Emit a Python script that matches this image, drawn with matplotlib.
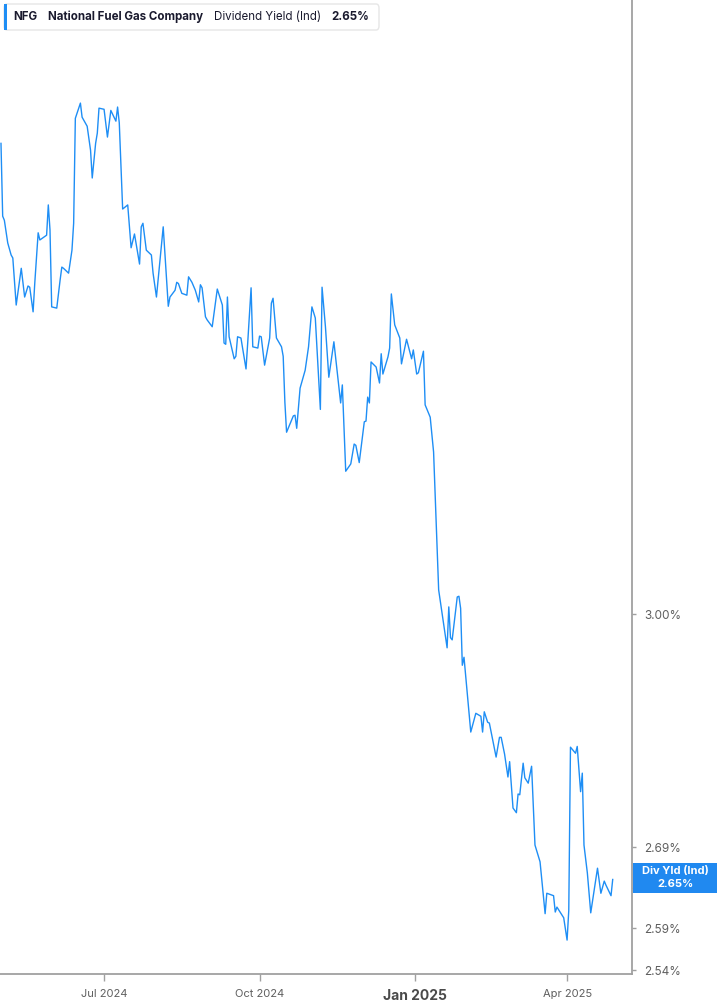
import matplotlib
matplotlib.use("Agg")
import matplotlib.pyplot as plt
from matplotlib.patches import FancyBboxPatch, Rectangle
import pandas as pd
from matplotlib.ticker import FixedLocator, NullLocator

plt.rcParams['font.family'] = ['Inter', 'DejaVu Sans']

dates = [
 "2024-05-01","2024-05-02","2024-05-03","2024-05-05","2024-05-07","2024-05-08","2024-05-10","2024-05-13",
 "2024-05-15","2024-05-17","2024-05-18","2024-05-20","2024-05-21","2024-05-23","2024-05-24","2024-05-28",
 "2024-05-29","2024-05-30","2024-05-31","2024-06-03","2024-06-05","2024-06-06","2024-06-07","2024-06-10",
 "2024-06-12","2024-06-13","2024-06-14","2024-06-17","2024-06-18","2024-06-21","2024-06-23","2024-06-24",
 "2024-06-26","2024-06-27","2024-06-28","2024-07-01","2024-07-03","2024-07-05","2024-07-08","2024-07-09",
 "2024-07-10","2024-07-12","2024-07-15","2024-07-17","2024-07-19","2024-07-22","2024-07-23","2024-07-24",
 "2024-07-26","2024-07-29","2024-07-30","2024-08-01","2024-08-05","2024-08-08","2024-08-09","2024-08-12",
 "2024-08-13","2024-08-14","2024-08-16","2024-08-19","2024-08-20","2024-08-22","2024-08-24","2024-08-26",
 "2024-08-27","2024-08-28","2024-08-30","2024-08-31","2024-09-03","2024-09-06","2024-09-09","2024-09-10",
 "2024-09-11","2024-09-12","2024-09-13","2024-09-16","2024-09-17","2024-09-18","2024-09-20","2024-09-23",
 "2024-09-24","2024-09-26","2024-09-27","2024-09-30","2024-10-01","2024-10-02","2024-10-04","2024-10-07",
 "2024-10-08","2024-10-09","2024-10-11","2024-10-14","2024-10-15","2024-10-16","2024-10-17","2024-10-21",
 "2024-10-22","2024-10-23","2024-10-25","2024-10-28","2024-10-30","2024-11-01","2024-11-03","2024-11-06",
 "2024-11-07","2024-11-09","2024-11-11","2024-11-14","2024-11-18","2024-11-19","2024-11-21","2024-11-24",
 "2024-11-26","2024-11-27","2024-11-29","2024-12-02","2024-12-03","2024-12-04","2024-12-05","2024-12-06",
 "2024-12-09","2024-12-11","2024-12-12","2024-12-13","2024-12-16","2024-12-17","2024-12-18","2024-12-20",
 "2024-12-23","2024-12-24","2024-12-27","2024-12-30","2024-12-31","2025-01-02","2025-01-03","2025-01-06",
 "2025-01-07","2025-01-10","2025-01-12","2025-01-15","2025-01-20","2025-01-21","2025-01-22","2025-01-23",
 "2025-01-26","2025-01-27","2025-01-28","2025-01-29","2025-01-30","2025-02-03","2025-02-06","2025-02-09",
 "2025-02-10","2025-02-11","2025-02-13","2025-02-14","2025-02-18","2025-02-20","2025-02-21","2025-02-23",
 "2025-02-25","2025-02-26","2025-02-28","2025-03-02","2025-03-03","2025-03-04","2025-03-06","2025-03-07",
 "2025-03-09","2025-03-11","2025-03-13","2025-03-16","2025-03-19","2025-03-20","2025-03-24","2025-03-25",
 "2025-03-26","2025-03-30","2025-04-01","2025-04-02","2025-04-03","2025-04-06","2025-04-07","2025-04-09",
 "2025-04-10","2025-04-11","2025-04-13","2025-04-15","2025-04-19","2025-04-21","2025-04-23","2025-04-24",
 "2025-04-27","2025-04-28",
]

div_yield = [
 3.738,3.613,3.606,3.568,3.548,3.543,3.466,3.526,
 3.479,3.497,3.495,3.455,3.502,3.585,3.573,3.581,
 3.632,3.590,3.463,3.461,3.507,3.528,3.526,3.518,
 3.556,3.601,3.782,3.809,3.784,3.768,3.726,3.678,
 3.738,3.756,3.800,3.798,3.749,3.796,3.777,3.802,
 3.774,3.625,3.632,3.560,3.583,3.533,3.595,3.601,
 3.556,3.548,3.518,3.479,3.595,3.464,3.479,3.490,
 3.503,3.501,3.485,3.482,3.512,3.503,3.490,3.471,
 3.499,3.494,3.447,3.442,3.431,3.492,3.466,3.405,
 3.403,3.479,3.415,3.380,3.384,3.415,3.413,3.364,
 3.405,3.494,3.399,3.397,3.416,3.415,3.370,3.413,
 3.469,3.477,3.413,3.399,3.384,3.312,3.266,3.291,
 3.292,3.272,3.334,3.362,3.399,3.463,3.445,3.301,
 3.495,3.431,3.351,3.407,3.311,3.339,3.207,3.218,
 3.248,3.246,3.220,3.282,3.283,3.320,3.311,3.375,
 3.367,3.342,3.388,3.356,3.383,3.397,3.484,3.434,
 3.413,3.372,3.411,3.380,3.394,3.356,3.358,3.392,
 3.308,3.289,3.236,3.034,2.953,3.010,2.967,2.964,
 3.024,3.025,3.008,2.929,2.940,2.839,2.864,2.860,
 2.839,2.866,2.852,2.851,2.806,2.832,2.832,2.810,
 2.780,2.800,2.740,2.734,2.758,2.757,2.798,2.779,
 2.772,2.794,2.693,2.672,2.608,2.633,2.630,2.610,
 2.616,2.603,2.576,2.612,2.819,2.811,2.820,2.761,
 2.785,2.693,2.658,2.609,2.664,2.633,2.648,2.643,
 2.630,2.650,
]

y_ticks = [2.54, 2.59, 2.64, 2.69, 3.00]
y_tick_labels = ["2.54%", "2.59%", "", "2.69%", "3.00%"]  # 2.64% sits behind the value flag
x_tick_dates = ["2024-07-01", "2024-10-01", "2025-01-01", "2025-04-01"]
x_tick_labels = ["Jul 2024", "Oct 2024", "Jan 2025", "Apr 2025"]

ticker_sym = "NFG"
company = "National Fuel Gas Company"
metric = "Dividend Yield (Ind)"
last_value = "2.65%"

LINE = "#1e8ef5"
GRAY = "#a0a0a0"
TXT = "#5f5f5f"

W, H = 717, 1005
fig = plt.figure(figsize=(W/100, H/100), dpi=100)
ax = fig.add_axes([0, 31/H, 632/W, 974/H])

x = pd.to_datetime(dates)
ax.plot(x, div_yield, color=LINE, lw=1.0)

ax.set_yscale('log')
ax.set_ylim(2.5355, 3.997)
ax.set_xlim(pd.Timestamp("2024-04-30 10:00"), pd.Timestamp("2025-05-09 10:00"))

for s in ['left', 'top']:
    ax.spines[s].set_visible(False)
for s in ['right', 'bottom']:
    ax.spines[s].set_color(GRAY)
    ax.spines[s].set_linewidth(1.3)

ax.yaxis.tick_right()
ax.yaxis.set_major_locator(FixedLocator(y_ticks))
ax.yaxis.set_minor_locator(NullLocator())
ax.set_yticklabels(y_tick_labels)
ax.tick_params(axis='y', which='major', length=3, width=1, color=GRAY, pad=6,
               labelsize=8.5, labelcolor=TXT)

ax.set_xticks(pd.to_datetime(x_tick_dates))
ax.set_xticklabels(x_tick_labels)
ax.tick_params(axis='x', length=5, width=1, color=GRAY, pad=6, labelsize=8, labelcolor=TXT)
for lbl in ax.get_xticklabels():
    if lbl.get_text().startswith("Jan"):
        lbl.set_fontweight('bold')
        lbl.set_fontsize(10)
        lbl.set_color("#4a4a4a")

# header box
hdr = FancyBboxPatch((4/W, 1 - 30/H), 375/W, 26/H, boxstyle="round,pad=0,rounding_size=0.004",
                     transform=fig.transFigure, facecolor='white', edgecolor='#e6e6e6', lw=1)
fig.patches.append(hdr)
fig.patches.append(Rectangle((4/W, 1 - 30/H), 3/W, 26/H, transform=fig.transFigure,
                             facecolor=LINE, edgecolor='none'))
ty = 1 - 17/H
fs = 8.3
fig.text(13/W, ty, ticker_sym, fontsize=fs, fontweight='bold', color='#1a1a2e', va='center')
fig.text(48/W, ty, company, fontsize=fs, fontweight='bold', color='#1a1a2e', va='center')
fig.text(214/W, ty, metric, fontsize=fs, color='#1a1a2e', va='center')
fig.text(331/W, ty, last_value, fontsize=fs, fontweight='bold', color='#1a1a2e', va='center')

# right value flag
fig.patches.append(Rectangle((633/W, 1 - 893/H), 84/W, 30/H, transform=fig.transFigure,
                             facecolor="#2089f0", edgecolor='none'))
fig.text(675/W, 1 - 871/H, "Div Yld (Ind)", fontsize=8, fontweight='bold', color='white',
         ha='center', va='center')
fig.text(675/W, 1 - 884/H, last_value, fontsize=8, fontweight='bold', color='white',
         ha='center', va='center')

fig.savefig("out.png", dpi=100)
